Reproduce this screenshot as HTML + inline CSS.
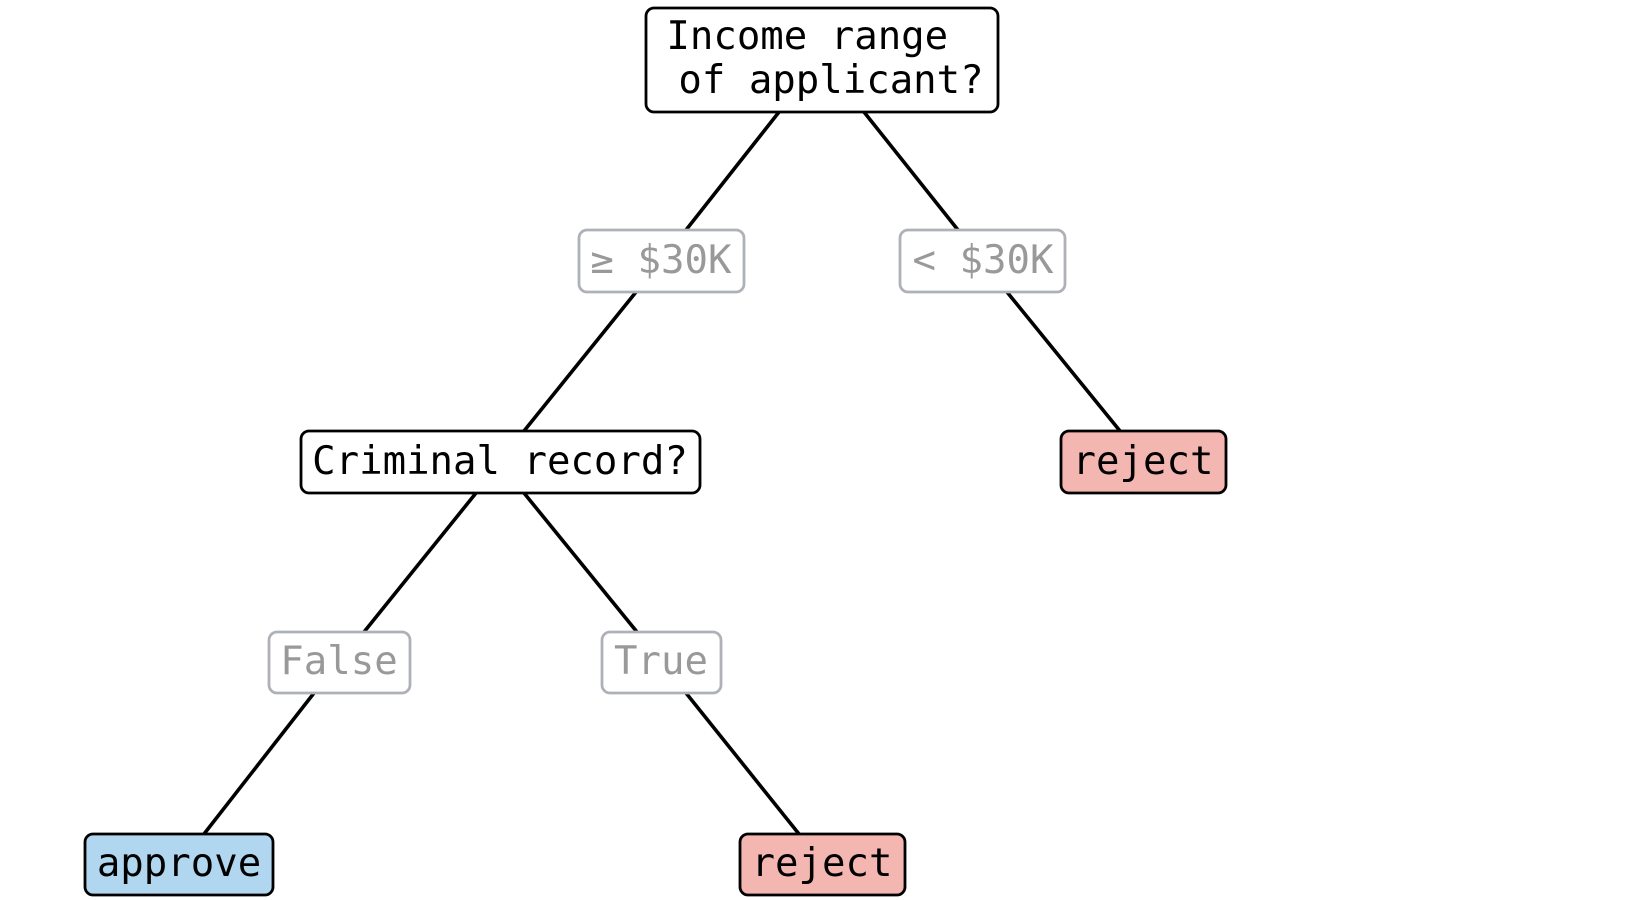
<!DOCTYPE html>
<html><head><meta charset="utf-8"><style>html,body{margin:0;padding:0;background:#fff}svg{display:block}</style></head>
<body>
<svg width="1639" height="900" viewBox="0 0 1639 900" xmlns="http://www.w3.org/2000/svg" font-family="DejaVu Sans Mono, Liberation Mono, monospace" font-size="39">
<g transform="translate(-2,-1)">
<g stroke="#000" stroke-width="3.6" fill="none">
<line x1="781" y1="113" x2="688" y2="231"/>
<line x1="866" y1="113" x2="960" y2="231"/>
<line x1="638" y1="293" x2="526" y2="432"/>
<line x1="1009" y1="293" x2="1122" y2="432"/>
<line x1="478" y1="494" x2="366" y2="633"/>
<line x1="526" y1="494" x2="639" y2="633"/>
<line x1="316" y1="694" x2="206" y2="835"/>
<line x1="688" y1="694" x2="801" y2="835"/>
</g>
<g stroke-width="2.8">
<rect x="648" y="9" width="352" height="104" rx="8" fill="#fff" stroke="#000"/>
<rect x="581" y="231" width="165" height="62" rx="8" fill="#fff" stroke="#aeb2b8"/>
<rect x="902" y="231" width="165" height="62" rx="8" fill="#fff" stroke="#aeb2b8"/>
<rect x="303" y="432" width="399" height="62" rx="8" fill="#fff" stroke="#000"/>
<rect x="1063" y="432" width="165" height="62" rx="8" fill="#f4b6b1" stroke="#000"/>
<rect x="271" y="633" width="141" height="61" rx="8" fill="#fff" stroke="#aeb2b8"/>
<rect x="604" y="633" width="119" height="61" rx="8" fill="#fff" stroke="#aeb2b8"/>
<rect x="87" y="835" width="188" height="61" rx="8" fill="#b0d6f0" stroke="#000"/>
<rect x="742" y="835" width="165" height="61" rx="8" fill="#f4b6b1" stroke="#000"/>
</g>
<g text-anchor="middle">
<text x="821" y="50" xml:space="preserve" fill="#000">Income range </text>
<text x="833" y="94" xml:space="preserve" fill="#000">of applicant?</text>
<text x="663" y="274" fill="#999">≥ $30K</text>
<text x="985" y="274" fill="#999">&lt; $30K</text>
<text x="502" y="475" fill="#000">Criminal record?</text>
<text x="1145" y="475" fill="#000">reject</text>
<text x="341" y="675" fill="#999">False</text>
<text x="663" y="675" fill="#999">True</text>
<text x="181" y="877" fill="#000">approve</text>
<text x="824" y="877" fill="#000">reject</text>
</g>
</g>
</svg>
</body></html>
